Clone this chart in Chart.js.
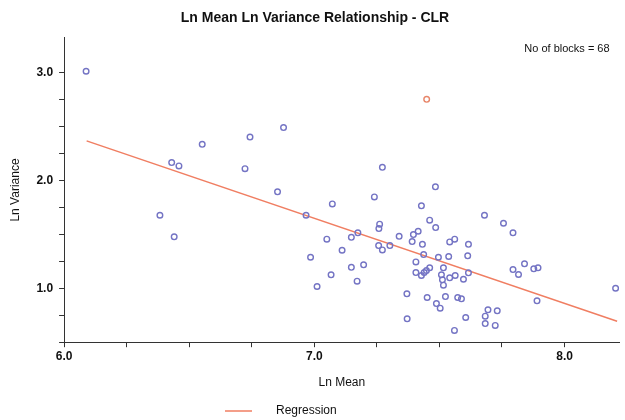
<!DOCTYPE html>
<html>
<head>
<meta charset="utf-8">
<script src="https://cdn.jsdelivr.net/npm/chart.js@4"></script>
<style>
    html, body { margin: 0; padding: 0; background: #ffffff; }
    #wrap { width: 625px; height: 420px; position: relative; }
</style>
</head>
<body>
<div id="wrap"><canvas id="chart"></canvas></div>
<script>
// Ln mean / ln variance per block
const lnMean = [
    6.088, 6.43, 6.459, 6.552, 6.743, 6.723, 6.383, 6.44,
    6.877, 7.272, 7.484, 6.853, 7.24,
    7.072, 6.967, 7.428, 7.461, 7.485, 7.261, 7.258, 7.174, 7.148, 7.05,
    7.339, 7.396, 7.415, 7.391, 7.432, 7.257, 7.272, 7.302, 7.111, 7.437,
    7.496, 6.985, 7.406, 7.516, 7.148, 7.197, 7.461, 7.448, 7.439, 7.406,
    7.428, 7.508, 7.512, 7.067, 7.171, 7.011, 7.37, 7.451, 7.488, 7.503,
    7.524, 7.371,
    7.68, 7.756, 7.794, 7.561, 7.541, 7.616, 7.537, 7.613, 7.84, 7.794,
    7.816, 7.877, 7.894, 7.516, 7.541, 7.563, 7.596, 7.616, 7.573, 7.588,
    7.89, 8.204, 7.694, 7.731, 7.605, 7.683, 7.683, 7.723, 7.56
];
const lnVariance = [
    3.01, 2.164, 2.133, 2.333, 2.40, 2.108, 1.676, 1.476,
    2.488, 2.12, 1.939, 1.893, 1.846,
    1.781, 1.676, 1.763, 1.63, 1.562, 1.593, 1.553, 1.513, 1.472, 1.454,
    1.481, 1.497, 1.528, 1.432, 1.407, 1.395, 1.355, 1.395, 1.352, 1.312,
    1.287, 1.287, 1.244, 1.189, 1.194, 1.217, 1.189, 1.164, 1.145, 1.145,
    1.118, 1.124, 1.078, 1.124, 1.065, 1.016, 0.948, 0.914, 0.858, 0.815,
    0.923, 0.717,
    1.676, 1.602, 1.513, 1.454, 1.429, 1.407, 1.294, 1.30, 1.226, 1.173,
    1.127, 1.18, 1.189, 1.028, 1.096, 1.118, 1.083, 1.143, 0.914, 0.902,
    0.883, 1.0, 0.80, 0.791, 0.729, 0.741, 0.673, 0.655, 0.609
];

// highlighted block
const outlierMean = [7.449];
const outlierVariance = [2.75];

// fitted line end points
const regressionMean = [6.09, 8.21];
const regressionVariance = [2.365, 0.694];

const xLabels = ['6.0', '7.0', '8.0'];
const yLabels = ['1.0', '2.0', '3.0'];
const blockCount = 68;

const toPoints = (xs, ys) => xs.map((x, i) => ({ x: x, y: ys[i] }));

const FONT = "'Liberation Sans', Arial, sans-serif";
const INK = '#111111';
const LINE = '#f07e62';

// keep only quarter steps as tick marks
function quarterTicks(axis) {
    axis.ticks = axis.ticks.filter(t => Math.abs(t.value * 4 - Math.round(t.value * 4)) < 1e-6);
}

const overlay = {
    id: 'overlay',
    afterDraw(chart) {
        const ctx = chart.ctx;
        const area = chart.chartArea;
        ctx.save();
        ctx.fillStyle = INK;
        ctx.font = '11px ' + FONT;
        ctx.textAlign = 'right';
        ctx.textBaseline = 'middle';
        ctx.fillText('No of blocks = ' + blockCount, area.right - 10, area.top + 11);

        // legend entry for the regression line
        const ly = 411;
        ctx.strokeStyle = LINE;
        ctx.lineWidth = 1.5;
        ctx.beginPath();
        ctx.moveTo(225, ly);
        ctx.lineTo(252, ly);
        ctx.stroke();
        ctx.textAlign = 'left';
        ctx.font = '12px ' + FONT;
        ctx.fillText('Regression', 276, ly);
        ctx.restore();
    }
};

new Chart(document.getElementById('chart'), {
    type: 'scatter',
    data: {
        datasets: [
            {
                label: 'Blocks',
                data: toPoints(lnMean, lnVariance),
                pointStyle: 'circle',
                pointRadius: 2.8,
                pointBorderWidth: 1.4,
                pointBorderColor: '#7474c4',
                pointBackgroundColor: 'rgba(255,255,255,0)'
            },
            {
                label: 'Outlier',
                data: toPoints(outlierMean, outlierVariance),
                pointRadius: 2.8,
                pointBorderWidth: 1.4,
                pointBorderColor: '#e8866a',
                pointBackgroundColor: 'rgba(255,255,255,0)'
            },
            {
                type: 'line',
                label: 'Regression',
                data: toPoints(regressionMean, regressionVariance),
                borderColor: LINE,
                borderWidth: 1.5,
                pointRadius: 0,
                fill: false
            }
        ]
    },
    options: {
        responsive: true,
        maintainAspectRatio: false,
        animation: false,
        layout: {
            padding: { left: 8, right: 3, top: 0, bottom: 30 }
        },
        plugins: {
            legend: { display: false },
            tooltip: { enabled: false },
            title: {
                display: true,
                text: 'Ln Mean Ln Variance Relationship - CLR',
                color: INK,
                font: { family: FONT, size: 14, weight: 'bold' },
                padding: { top: 10, bottom: 11 }
            }
        },
        scales: {
            x: {
                type: 'linear',
                min: 6.0,
                max: 8.22,
                afterBuildTicks: quarterTicks,
                border: { color: '#333333', width: 1 },
                grid: { drawOnChartArea: false, tickLength: 5, color: '#333333' },
                ticks: {
                    stepSize: 0.25,
                    autoSkip: false,
                    maxRotation: 0,
                    color: INK,
                    font: { family: FONT, size: 12, weight: 'bold' },
                    padding: 2,
                    callback: v => {
                        const s = Number(v).toFixed(1);
                        return Number.isInteger(Number(v)) && xLabels.includes(s) ? s : '';
                    }
                },
                title: {
                    display: true,
                    text: 'Ln Mean',
                    color: INK,
                    font: { family: FONT, size: 12 },
                    padding: { top: 10, bottom: 0 }
                }
            },
            y: {
                type: 'linear',
                min: 0.5,
                max: 3.32,
                afterBuildTicks: quarterTicks,
                border: { color: '#333333', width: 1 },
                grid: { drawOnChartArea: false, tickLength: 5, color: '#333333' },
                ticks: {
                    stepSize: 0.25,
                    autoSkip: false,
                    color: INK,
                    font: { family: FONT, size: 12, weight: 'bold' },
                    padding: 6,
                    callback: v => {
                        const s = Number(v).toFixed(1);
                        return Number.isInteger(Number(v)) && yLabels.includes(s) ? s : '';
                    }
                },
                title: {
                    display: true,
                    text: 'Ln Variance',
                    color: INK,
                    font: { family: FONT, size: 12 },
                    padding: { top: 0, bottom: 8 }
                }
            }
        }
    },
    plugins: [overlay]
});
</script>
</body>
</html>
